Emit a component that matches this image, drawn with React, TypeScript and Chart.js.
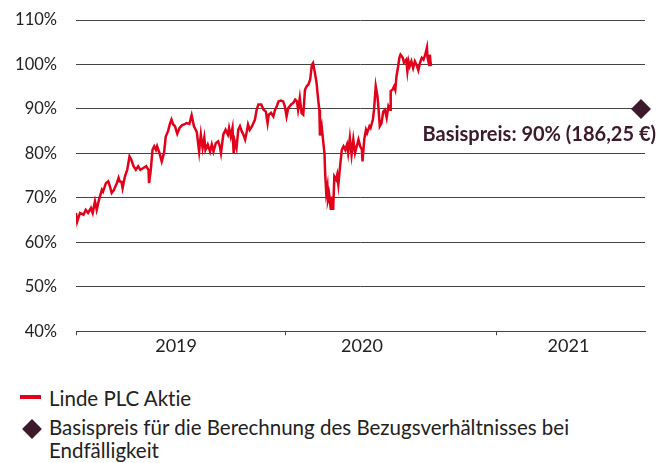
import React, { useEffect, useRef } from "react";
import { Chart, registerables } from "chart.js";

Chart.register(...registerables);

// Days since 2019-01-01
const DAYS = [
  0, 2, 7, 13, 17, 21, 26, 29, 33, 36, 40, 45, 47, 52, 56, 59, 62, 66, 71, 74,
  76, 79, 81, 85, 89, 93, 96, 100, 104, 108, 112, 117, 122, 126, 127, 130, 133, 136, 139, 141,
  145, 149, 153, 156, 160, 163, 166, 169, 172, 176, 180, 184, 188, 192, 197, 201, 205, 210, 214, 217,
  220, 223, 225, 229, 233, 236, 239, 243, 247, 250, 252, 256, 260, 264, 266, 269, 272, 274, 276, 279,
  282, 285, 288, 291, 294, 297, 299, 302, 306, 311, 314, 317, 322, 326, 330, 333, 335, 339, 343, 346,
  349, 352, 356, 360, 363, 366, 369, 374, 378, 381, 384, 386, 389, 392, 395, 398, 401, 404, 407, 410,
  412, 415, 418, 421, 423, 424, 427, 430, 432, 433, 435, 437, 438, 440, 443, 445, 447, 449, 452, 454,
  456, 459, 462, 465, 468, 471, 473, 476, 479, 482, 485, 488, 491, 494, 497, 498, 501, 504, 506, 510,
  512, 516, 518, 521, 524, 526, 528, 531, 534, 537, 540, 543, 546, 547, 550, 553, 555, 557, 560, 562,
  564, 568, 570, 574, 576, 578, 580, 583, 586, 589, 592, 595, 598, 601, 604, 607, 610, 611, 614, 615,
  617,
];

// Linde PLC share, in % of the strike reference
const LINDE = [
  66.6, 64.6, 66.6, 66.2, 67.3, 66.6, 67.7, 66.6, 69.2, 67.3, 69.6, 71.8, 71.4, 73.3, 73.7, 72.6, 71.1, 71.8, 73.3, 74.5,
  73.7, 73.6, 72.2, 74.8, 76.3, 79.3, 78.6, 77.1, 76.3, 77.1, 76.3, 76.7, 77.1, 76.3, 73.3, 76.3, 80.8, 81.6, 80.8, 81.6,
  80.1, 78.2, 80.1, 83.8, 85.0, 86.5, 87.6, 86.5, 86.1, 84.4, 85.7, 86.3, 86.5, 86.8, 86.6, 88.6, 86.1, 84.8, 80.4, 84.2,
  81.2, 83.5, 80.8, 82.0, 80.4, 82.0, 80.4, 82.3, 82.7, 81.6, 80.1, 84.2, 85.3, 84.2, 85.7, 83.8, 85.7, 80.1, 82.7, 81.2,
  85.3, 86.1, 85.0, 84.2, 83.1, 85.0, 86.5, 85.3, 86.1, 87.6, 89.8, 91.0, 91.0, 89.8, 89.4, 86.8, 88.7, 89.1, 88.3, 89.8,
  90.6, 91.7, 91.9, 91.7, 90.6, 88.3, 90.2, 91.0, 91.4, 92.1, 91.7, 89.8, 92.5, 89.1, 88.7, 94.3, 95.1, 95.5, 96.6, 99.9,
  100.3, 98.3, 96.0, 92.0, 89.8, 84.0, 86.1, 82.3, 79.7, 75.6, 71.1, 72.6, 69.6, 70.7, 67.3, 70.3, 67.3, 74.8, 74.1, 75.2,
  73.0, 77.1, 80.8, 81.6, 80.8, 82.0, 80.1, 83.5, 79.7, 83.1, 80.1, 81.6, 83.1, 81.6, 80.8, 78.2, 83.1, 85.3, 84.6, 86.1,
  85.7, 87.6, 89.8, 95.1, 92.8, 89.8, 86.1, 86.8, 89.4, 89.8, 88.0, 90.6, 89.8, 94.0, 94.3, 95.1, 94.3, 97.3, 99.6, 101.5,
  102.2, 101.5, 100.4, 101.1, 98.5, 100.7, 99.6, 100.7, 99.2, 100.7, 99.9, 98.7, 100.4, 101.5, 101.1, 102.2, 103.8, 101.5, 99.9, 102.2,
  99.6,
];

const YEAR_STARTS = [0, 365, 731];
const YEAR_LABELS = ["2019", "2020", "2021"];
const YEAR_LABEL_DAYS = [174, 497, 856];
const X_MAX = 989;

const Y_MIN = 40;
const Y_MAX = 110;
const Y_STEP = 10;

const STRIKE_DAY = 982;
const STRIKE_LEVEL = 90;
const STRIKE_TEXT = "Basispreis: 90% (186,25 €)";

const SERIES_LABEL = "Linde PLC Aktie";

const RED = "#e2001a";
const PLUM = "#3c1a2c";
const GRID = "#444444";
const TEXT = "#222222";
const FONT = "Lato, 'Open Sans', sans-serif";

const strikeLabelPlugin = {
  id: "strikeLabel",
  afterDatasetsDraw(chart: any) {
    const { ctx, scales } = chart;
    const px = scales.x.getPixelForValue(STRIKE_DAY);
    const py = scales.y.getPixelForValue(STRIKE_LEVEL);
    ctx.save();
    ctx.font = `bold 20px ${FONT}`;
    ctx.fillStyle = PLUM;
    ctx.textAlign = "right";
    ctx.textBaseline = "alphabetic";
    ctx.fillText(STRIKE_TEXT, px + 15, py + 32);
    ctx.restore();
  },
};

export default function App() {
  const ref = useRef<HTMLCanvasElement | null>(null);

  useEffect(() => {
    if (!ref.current) return;
    const lineData = DAYS.map((d, i) => ({ x: d, y: LINDE[i] }));
    const boundarySet = new Set(YEAR_STARTS);
    const chart = new Chart(ref.current, {
      type: "scatter",
      data: {
        datasets: [
          {
            label: SERIES_LABEL,
            data: lineData,
            showLine: true,
            borderColor: RED,
            backgroundColor: RED,
            borderWidth: 2.5,
            pointRadius: 0,
            tension: 0,
          },
          {
            label: "Basispreis",
            data: [{ x: STRIKE_DAY, y: STRIKE_LEVEL }],
            pointStyle: "rectRot",
            pointRadius: 10,
            pointHoverRadius: 10,
            backgroundColor: PLUM,
            borderColor: PLUM,
            borderWidth: 0,
            clip: false as any,
          },
        ],
      },
      options: {
        responsive: false,
        animation: false,
        layout: { padding: { top: 20, right: 14, left: 0, bottom: 0 } },
        plugins: {
          legend: { display: false },
          tooltip: { enabled: false },
        },
        scales: {
          x: {
            type: "linear",
            min: 0,
            max: X_MAX,
            afterBuildTicks: (scale: any) => {
              const all = [...YEAR_STARTS, ...YEAR_LABEL_DAYS].sort((a, b) => a - b);
              scale.ticks = all.map((v) => ({ value: v }));
            },
            afterFit: (scale: any) => {
              scale.height = 38.8;
            },
            grid: {
              drawOnChartArea: false,
              drawTicks: true,
              tickLength: 4,
              tickColor: (ctx: any) =>
                ctx.tick && boundarySet.has(ctx.tick.value) ? GRID : "rgba(0,0,0,0)",
              color: GRID,
            },
            border: { display: true, color: GRID, width: 1 },
            ticks: {
              autoSkip: false,
              maxRotation: 0,
              padding: 0,
              color: TEXT,
              font: { family: FONT, size: 18 },
              callback: (value: any) => {
                const idx = YEAR_LABEL_DAYS.indexOf(Number(value));
                return idx >= 0 ? YEAR_LABELS[idx] : "";
              },
            },
          },
          y: {
            min: Y_MIN,
            max: Y_MAX,
            afterFit: (scale: any) => {
              scale.width = 76;
            },
            ticks: {
              stepSize: Y_STEP,
              padding: 0,
              color: TEXT,
              font: { family: FONT, size: 16.5 },
              callback: (v: any) => `${v}%`,
            },
            grid: {
              color: GRID,
              lineWidth: 1,
              drawTicks: true,
              tickLength: 19,
              tickColor: "rgba(0,0,0,0)",
            },
            border: { display: false },
          },
        },
      },
      plugins: [strikeLabelPlugin],
    } as any);
    return () => chart.destroy();
  }, []);

  const text: React.CSSProperties = {
    position: "absolute",
    left: 49,
    fontFamily: FONT,
    fontSize: 20.5,
    color: TEXT,
    whiteSpace: "nowrap",
    fontVariantLigatures: "none",
  };

  return (
    <div style={{ position: "absolute", left: 0, top: 0, width: 659, height: 463, background: "#fff" }}>
      <canvas ref={ref} width={659} height={370} style={{ display: "block" }} />
      <div style={{ position: "absolute", left: 20, top: 395, width: 21, height: 3.5, background: RED }} />
      <div style={{ ...text, top: 386.6, lineHeight: "23px" }}>{SERIES_LABEL}</div>
      <div
        style={{
          position: "absolute",
          left: 24.5,
          top: 422,
          width: 14,
          height: 14,
          background: PLUM,
          transform: "rotate(45deg)",
        }}
      />
      <div style={{ ...text, top: 415.6, lineHeight: "23px", whiteSpace: "normal", width: 600 }}>
        Basispreis für die Berechnung des Bezugsverhältnisses bei
        <br />
        Endfälligkeit
      </div>
    </div>
  );
}
